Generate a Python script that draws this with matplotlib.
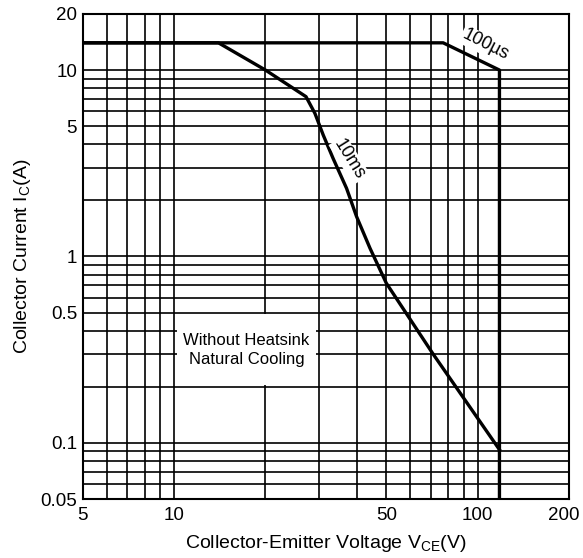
import matplotlib
matplotlib.use("Agg")
import matplotlib.pyplot as plt
import matplotlib.transforms as mtransforms
from matplotlib.patches import Rectangle

plt.rcParams['font.family'] = ['Liberation Sans', 'DejaVu Sans']

# safe operating area curves (VCE in V, Ic in A)
v_100us = [5, 77, 118, 118]
ic_100us = [14, 14, 10, 0.05]
v_10ms = [5, 14, 20, 27.2, 29.1, 31, 33.4, 37, 39.9, 44.2, 50, 71.3, 118]
ic_10ms = [14, 14, 10, 7.2, 5.86, 4.48, 3.36, 2.32, 1.64, 1.107, 0.72, 0.30, 0.092]

x_major = [5, 10, 50, 100, 200]
x_minor = [6, 7, 8, 9, 20, 30, 40, 60, 70, 80, 90]
y_major = [0.05, 0.1, 0.5, 1, 5, 10, 20]
y_minor = [0.06, 0.07, 0.08, 0.09, 0.2, 0.3, 0.4, 0.6, 0.7, 0.8, 0.9,
           2, 3, 4, 6, 7, 8, 9]

fig = plt.figure(figsize=(5.83, 5.58), dpi=100)
ax = fig.add_axes([0.1419, 0.1057, 0.976 - 0.1419, 0.975 - 0.1057])
ax.set_xscale('log')
ax.set_yscale('log')
ax.set_xlim(5, 200)
ax.set_ylim(0.05, 20)

ax.set_xticks(x_major)
ax.set_xticklabels(['5', '10', '50', '100', '200'])
ax.set_xticks(x_minor, minor=True)
ax.set_xticklabels([], minor=True)
ax.set_yticks(y_major)
ax.set_yticklabels(['0.05', '0.1', '0.5', '1', '5', '10', '20'])
ax.set_yticks(y_minor, minor=True)
ax.set_yticklabels([], minor=True)
ax.tick_params(which='both', length=0, labelsize=13.5)
ax.tick_params(axis='x', pad=6)
ax.tick_params(axis='y', pad=4)

# last x label sits at the figure edge, nudge it left so it stays whole
last = ax.get_xticklabels()[-1]
last.set_transform(last.get_transform() +
                   mtransforms.ScaledTranslation(-5 / 100, 0, fig.dpi_scale_trans))

ax.set_axisbelow(True)
ax.grid(which='both', color='black', lw=1.2)
for s in ax.spines.values():
    s.set_linewidth(1.5)

# white patch behind the note, keeps the cell border lines
ax.add_patch(Rectangle((10 * 1.02, 0.2 * 1.02), 30 / 1.02 - 10 * 1.02,
                       0.5 / 1.02 - 0.2 * 1.02, facecolor='white',
                       edgecolor='none', zorder=1))

ax.plot(v_100us, ic_100us, color='black', lw=2.4, zorder=2)
ax.plot(v_10ms, ic_10ms, color='black', lw=2.4, zorder=2)

ax.text(106, 13.6, '100\u00b5s', rotation=-27, ha='center', va='center',
        fontsize=13, zorder=3,
        bbox=dict(facecolor='white', edgecolor='none', pad=1))
ax.text(37.8, 3.3, '10ms', rotation=-58, ha='center', va='center',
        fontsize=13, zorder=3,
        bbox=dict(facecolor='white', edgecolor='none', pad=1))
ax.text(17.3, 0.315, 'Without Heatsink\nNatural Cooling', ha='center',
        va='center', fontsize=12, linespacing=1.3, zorder=3)

ax.set_xlabel(r'Collector-Emitter Voltage V$_{\mathregular{CE}}$(V)',
              fontsize=14, labelpad=6)
ax.set_ylabel(r'Collector Current I$_{\mathregular{C}}$(A)',
              fontsize=14, labelpad=5)

fig.savefig('out.png', dpi=100)
